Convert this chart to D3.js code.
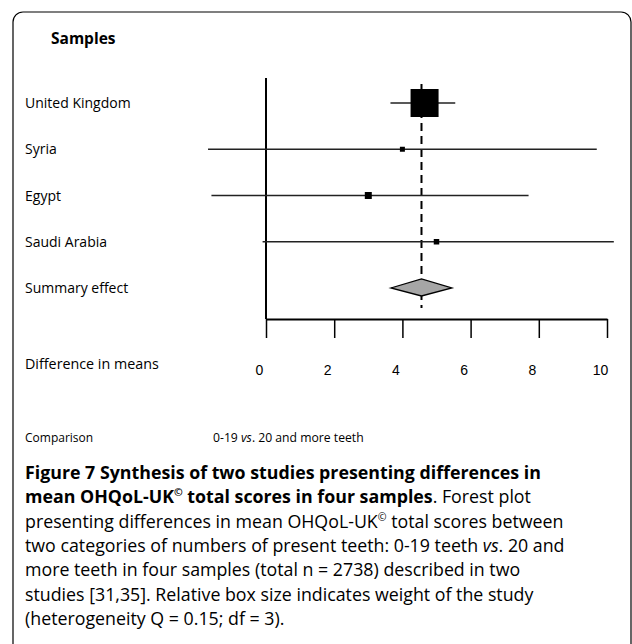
<!DOCTYPE html>
<html>
<head>
<meta charset="utf-8">
<script src="https://cdn.jsdelivr.net/npm/d3@7"></script>
<style>
  body { margin: 0; background: #fff; }
  svg text { fill: #000; }
</style>
</head>
<body>
<div id="chart"></div>
<script>
// samples and their difference in means (0-19 vs. 20+ teeth)
const samples = ["United Kingdom", "Syria", "Egypt", "Saudi Arabia"];
const means = [4.65, 4.0, 3.0, 5.0];
const lower = [3.65, -1.7, -1.6, -0.1];
const upper = [5.55, 9.7, 7.7, 10.2];
const weights = [88.3, 2.8, 5.5, 3.4];   // relative weight -> box size

const summaryLabel = "Summary effect";
const summary = { mean: 4.56, lower: 3.66, upper: 5.45 };

const xTicks = [0, 2, 4, 6, 8, 10];

const width = 632;
const height = 644;

const svg = d3.select('#chart')
    .append('svg')
    .attr('width', width)
    .attr('height', height);

// frame round the figure
svg.append('rect')
    .attr('x', 13).attr('y', 12)
    .attr('width', 618).attr('height', 700)
    .attr('rx', 10)
    .attr('fill', 'none')
    .attr('stroke', '#000')
    .attr('stroke-width', 1.2);

const x = d3.scaleLinear().domain([0, 10]).range([266, 607]);
const y = d3.scalePoint()
    .domain(samples.concat([summaryLabel]))
    .range([103, 288]);
const box = d3.scaleSqrt().domain([0, d3.max(weights)]).range([0, 28]);

const rows = samples.map((s, i) => ({
    name: s, mean: means[i], lo: lower[i], hi: upper[i], w: weights[i]
}));

const labelFont = "'Open Sans', sans-serif";

svg.append('text')
    .attr('x', 51).attr('y', 44)
    .attr('font-family', labelFont)
    .attr('font-weight', 'bold')
    .attr('font-size', 15.5)
    .text('Samples');

// row labels
svg.selectAll('.rowlabel')
    .data(samples.concat([summaryLabel]))
    .enter()
    .append('text')
    .attr('class', 'rowlabel')
    .attr('x', 25)
    .attr('y', d => y(d) + 5)
    .attr('font-family', labelFont)
    .attr('font-size', 14)
    .text(d => d);

// line of no effect
svg.append('line')
    .attr('x1', x(0)).attr('x2', x(0))
    .attr('y1', 78).attr('y2', 319)
    .attr('stroke', '#000').attr('stroke-width', 2);

// dashed line through summary estimate
svg.append('line')
    .attr('x1', x(summary.mean)).attr('x2', x(summary.mean))
    .attr('y1', 84).attr('y2', 308)
    .attr('stroke', '#000').attr('stroke-width', 2)
    .attr('stroke-dasharray', '8,5');

// confidence intervals
svg.selectAll('.ci')
    .data(rows)
    .enter()
    .append('line')
    .attr('class', 'ci')
    .attr('x1', d => x(d.lo)).attr('x2', d => x(d.hi))
    .attr('y1', d => y(d.name)).attr('y2', d => y(d.name))
    .attr('stroke', '#222').attr('stroke-width', 1.3);

// weighted boxes
svg.selectAll('.box')
    .data(rows)
    .enter()
    .append('rect')
    .attr('class', 'box')
    .attr('x', d => x(d.mean) - box(d.w) / 2)
    .attr('y', d => y(d.name) - box(d.w) / 2)
    .attr('width', d => box(d.w))
    .attr('height', d => box(d.w))
    .attr('fill', '#000');

// summary diamond
const sy = y(summaryLabel);
svg.append('path')
    .attr('d', `M${x(summary.lower)},${sy} L${x(summary.mean)},${sy - 9} L${x(summary.upper)},${sy} L${x(summary.mean)},${sy + 8} Z`)
    .attr('fill', '#a6a6a6')
    .attr('stroke', '#000')
    .attr('stroke-width', 1.3);

// x axis, ticks pointing down
const axis = svg.append('g')
    .attr('transform', 'translate(0,319)')
    .call(d3.axisBottom(x).tickValues(xTicks).tickSize(19).tickSizeOuter(0));
axis.select('.domain').attr('stroke-width', 2);
axis.selectAll('.tick line').attr('stroke-width', 1.5);
axis.selectAll('.tick text')
    .attr('y', 46)
    .attr('x', -7)
    .attr('font-family', "'Liberation Sans', Arial, sans-serif")
    .attr('font-size', 14);

svg.append('text')
    .attr('x', 25).attr('y', 369)
    .attr('font-family', labelFont)
    .attr('font-size', 14.3)
    .text('Difference in means');

svg.append('text')
    .attr('x', 25).attr('y', 442)
    .attr('font-family', labelFont)
    .attr('font-size', 12)
    .text('Comparison');

const comp = svg.append('text')
    .attr('x', 213).attr('y', 442)
    .attr('font-family', labelFont)
    .attr('font-size', 12.2);
comp.append('tspan').text('0-19 ');
comp.append('tspan').attr('font-style', 'italic').text('vs');
comp.append('tspan').text('. 20 and more teeth');

// caption, each line a list of [text, style]
const caption = [
    [["Figure 7 Synthesis of two studies presenting differences in", "b"]],
    [["mean OHQoL-UK", "b"], ["©", "bs"], [" total scores in four samples", "b"], [". Forest plot", ""]],
    [["presenting differences in mean OHQoL-UK", ""], ["©", "s"], [" total scores between", ""]],
    [["two categories of numbers of present teeth: 0-19 teeth ", ""], ["vs", "i"], [". 20 and", ""]],
    [["more teeth in four samples (total n = 2738) described in two", ""]],
    [["studies [31,35]. Relative box size indicates weight of the study", ""]],
    [["(heterogeneity Q = 0.15; df = 3).", ""]]
];

const capFont = "'Open Sans', sans-serif";
caption.forEach((line, i) => {
    const t = svg.append('text')
        .attr('x', 25)
        .attr('y', 479 + i * 24.3)
        .attr('font-family', capFont)
        .attr('font-size', 17.8);
    let up = false;
    line.forEach(([txt, st]) => {
        const ts = t.append('tspan').text(txt);
        if (st.includes('b')) ts.attr('font-weight', 'bold');
        if (st.includes('i')) ts.attr('font-style', 'italic');
        if (st.includes('s')) {
            ts.attr('font-size', 10.5).attr('dy', -7);
            up = true;
        } else if (up) {
            // back to the baseline after a superscript
            ts.attr('dy', 7);
            up = false;
        }
    });
});
</script>
</body>
</html>
